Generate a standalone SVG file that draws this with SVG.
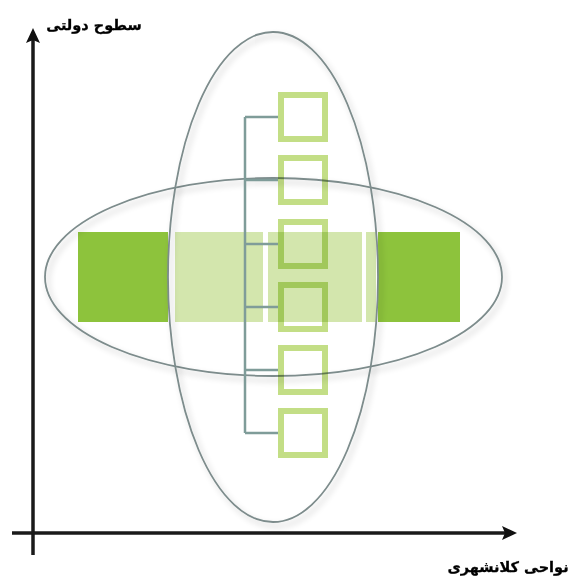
<svg xmlns="http://www.w3.org/2000/svg" width="569" height="577" viewBox="0 0 569 577">
  <defs>
    <filter id="sh" x="-10%" y="-10%" width="130%" height="130%">
      <feGaussianBlur in="SourceAlpha" stdDeviation="3"/>
      <feOffset dx="3" dy="4" result="b"/>
      <feComponentTransfer><feFuncA type="linear" slope="0.25"/></feComponentTransfer>
      <feMerge><feMergeNode/><feMergeNode in="SourceGraphic"/></feMerge>
    </filter>
    <marker id="arr" markerWidth="16" markerHeight="14" refX="11" refY="7" orient="auto" markerUnits="userSpaceOnUse">
      <path d="M0,0 L15,7 L0,14 L3,7 Z" fill="#111"/>
    </marker>
    <style>
      .ell { fill: none; stroke: #7d8c8c; stroke-width: 1.8; }
      .dark { fill: #8dc33c; }
      .light { fill: #d3e6ad; }
      .sq { fill: none; stroke: #c3de86; stroke-width: 6; mix-blend-mode: multiply; }
      .tree { fill: none; stroke: #7f9c99; stroke-width: 2.5; }
      .axis { stroke: #1a1a1a; stroke-width: 3.5; fill: none; }
      .lbl { font-family: "DejaVu Sans", sans-serif; font-weight: bold; font-size: 14.5px; fill: #000; stroke: #000; stroke-width: 0.3; }
    </style>
  </defs>

  <g id="axes">
    <line class="axis" x1="33" y1="555" x2="33" y2="32" marker-end="url(#arr)"/>
    <line class="axis" x1="12" y1="533" x2="513" y2="533" marker-end="url(#arr)"/>
    <text class="lbl" x="94" y="30" text-anchor="middle">سطوح دولتی</text>
    <text class="lbl" x="508" y="572" text-anchor="middle">نواحی کلانشهری</text>
  </g>

  <g id="bar">
    <rect class="dark" x="78" y="232" width="90" height="90"/>
    <rect class="light" x="175" y="232" width="88" height="90"/>
    <rect class="light" x="268" y="232" width="94" height="90"/>
    <rect class="light" x="366" y="232" width="10" height="90"/>
    <rect class="dark" x="378" y="232" width="82" height="90"/>
  </g>

  <g id="ellipses">
    <ellipse id="horizontal-ellipse" class="ell" cx="273.5" cy="277" rx="228.5" ry="99" filter="url(#sh)"/>
    <ellipse id="vertical-ellipse" class="ell" cx="273" cy="277" rx="105" ry="245" filter="url(#sh)"/>
  </g>

  <g id="connectors">
    <path class="tree" d="M245,117 V433 M245,117 H278 M245,180 H278 M245,244 H278 M245,307 H278 M245,370 H278 M245,433 H278"/>
  </g>

  <g id="box1"><rect class="sq" x="281" y="95" width="44" height="44"/></g>
  <g id="box2"><rect class="sq" x="281" y="158" width="44" height="44"/></g>
  <g id="box3"><rect class="sq" x="281" y="222" width="44" height="44"/></g>
  <g id="box4"><rect class="sq" x="281" y="285" width="44" height="44"/></g>
  <g id="box5"><rect class="sq" x="281" y="348" width="44" height="44"/></g>
  <g id="box6"><rect class="sq" x="281" y="411" width="44" height="44"/></g>
</svg>
